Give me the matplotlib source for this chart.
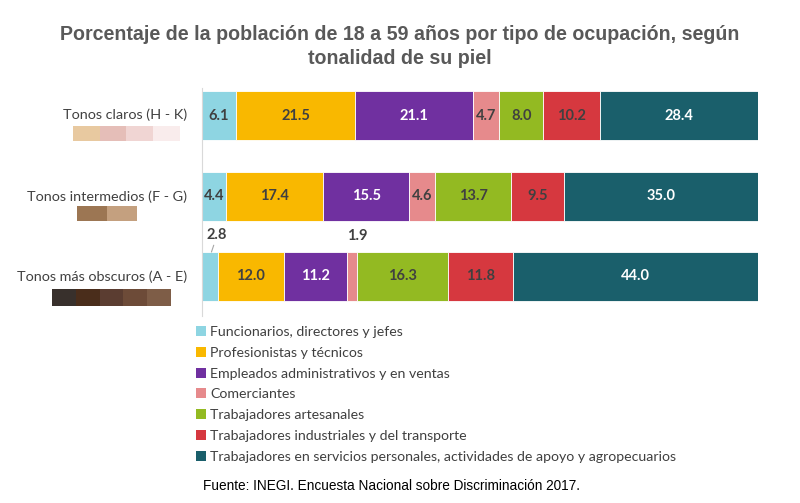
import matplotlib.pyplot as plt
from matplotlib.patches import Patch, Rectangle

categories = ["Tonos claros (H - K)", "Tonos intermedios (F - G)", "Tonos más obscuros (A - E)"]
occupations = [
    "Funcionarios, directores y jefes",
    "Profesionistas y técnicos",
    "Empleados administrativos y en ventas",
    "Comerciantes",
    "Trabajadores artesanales",
    "Trabajadores industriales y del transporte",
    "Trabajadores en servicios personales, actividades de apoyo y agropecuarios",
]
values = [
    [6.1, 21.5, 21.1, 4.7, 8.0, 10.2, 28.4],
    [4.4, 17.4, 15.5, 4.6, 13.7, 9.5, 35.0],
    [2.8, 12.0, 11.2, 1.9, 16.3, 11.8, 44.0],
]
colors = ["#8ED5E2", "#F9B800", "#7030A0", "#E68A8C", "#93BA22", "#D6383F", "#1A5F6B"]
label_colors = ["#404040", "#404040", "#FFFFFF", "#404040", "#404040", "#404040", "#FFFFFF"]
skin_tones = [
    ["#E8C9A0", "#E5BEB8", "#F0D5D3", "#F9ECEC"],
    ["#9C7653", "#C4A07F"],
    ["#38302C", "#4A2D1B", "#5B3D31", "#6D4B38", "#7E5D47"],
]

W, H = 800, 503
fig = plt.figure(figsize=(8, 5.03), dpi=100)
fig.patch.set_facecolor("white")

def fx(px):
    return px / W

def fy(py):
    return 1 - py / H

# axes: x 0..100 mapped to px 202..758, rows centred at 115.5, 195.5, 276.5
ax_top, ax_bot = 88, 316
ax = fig.add_axes([fx(202), fy(ax_bot), fx(758) - fx(202), (ax_bot - ax_top) / H])
row_gap = 80.5
ax.set_xlim(0, 100)
ax.set_ylim((ax_bot - 115.5) / row_gap, -(115.5 - ax_top) / row_gap)
bar_h = 49 / row_gap

for i, row in enumerate(values):
    left = 0
    for j, v in enumerate(row):
        ax.barh(i, v, left=left, height=bar_h, color=colors[j], edgecolor="white", linewidth=0.6)
        if v >= 3:
            ax.text(left + v / 2, i, f"{v:.1f}", ha="center", va="center", fontsize=10.5,
                    fontweight="bold", color=label_colors[j], family="Lato")
        left += v

# small segments labelled above the bottom bar
left3 = values[2]
ax.annotate(f"{left3[0]:.1f}", xy=(left3[0] / 2 + 0.3, 2 - bar_h / 2), xytext=(2.7, 1.49),
            ha="center", va="center", fontsize=10.5, fontweight="bold", color="#404040", family="Lato",
            arrowprops=dict(arrowstyle="-", color="#A6A6A6", lw=0.8, shrinkA=6, shrinkB=0))
x19 = sum(left3[:3]) + left3[3] / 2
ax.text(x19 + 1, 1.5, f"{left3[3]:.1f}", ha="center", va="center", fontsize=10.5,
        fontweight="bold", color="#404040", family="Lato")

for s in ["top", "right", "bottom"]:
    ax.spines[s].set_visible(False)
ax.spines["left"].set_color("#D9D9D9")
ax.set_xticks([])
ax.set_yticks([])

# category labels and skin swatches
label_y = [115, 197, 277]
swatch = [(73, 180, 126, 141), (77, 137, 206, 221), (52, 171, 289, 306)]
for k, cat in enumerate(categories):
    fig.text(fx(187), fy(label_y[k]), cat, ha="right", va="center", fontsize=10.4,
             color="#404040", family="Lato")
    x0, x1, y0, y1 = swatch[k]
    n = len(skin_tones[k])
    w = (x1 - x0) / n
    for m, c in enumerate(skin_tones[k]):
        fig.patches.append(Rectangle((fx(x0 + m * w), fy(y1)), w / W, (y1 - y0) / H,
                                     transform=fig.transFigure, facecolor=c, edgecolor="none"))

handles = [Patch(facecolor=c, edgecolor="none", label=l) for c, l in zip(colors, occupations)]
fig.legend(handles=handles, loc="upper left", bbox_to_anchor=(fx(196), fy(326)), frameon=False,
           handlelength=0.7, handleheight=0.7, handletextpad=0.3,
           labelspacing=0.62, borderaxespad=0, borderpad=0,
           prop={"family": "Lato", "size": 10.2}, labelcolor="#404040")

fig.text(0.5, fy(35), "Porcentaje de la población de 18 a 59 años por tipo de ocupación, según",
         ha="center", va="center", fontsize=14.1, fontweight="bold", color="#595959",
         family="Liberation Sans")
fig.text(0.5, fy(59), "tonalidad de su piel", ha="center", va="center", fontsize=14.1,
         fontweight="bold", color="#595959", family="Liberation Sans")
fig.text(fx(203), fy(486), "Fuente: INEGI. Encuesta Nacional sobre Discriminación 2017.",
         ha="left", va="center", fontsize=9.8, color="#000000", family="Liberation Sans")

fig.savefig("out.png", dpi=100)
